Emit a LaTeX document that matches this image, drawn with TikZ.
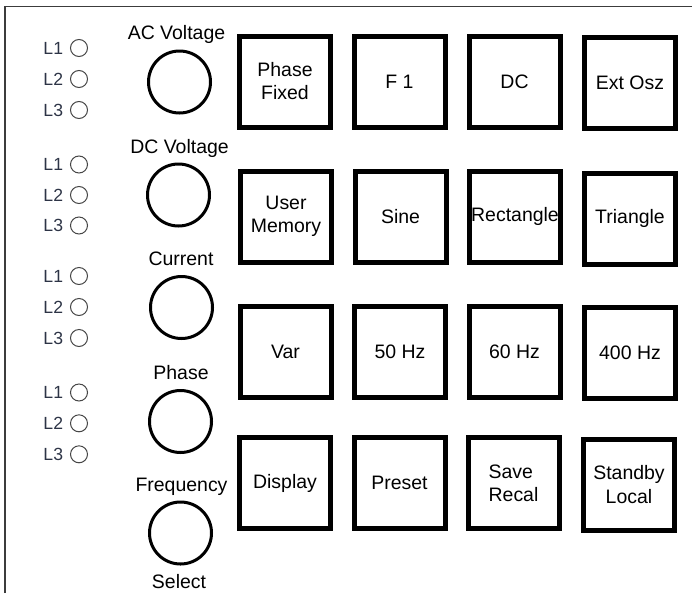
\documentclass[tikz,border=0pt]{standalone}
\usepackage{fontspec}
\setmainfont{Liberation Sans}
\usepackage{tikz}
\usetikzlibrary{positioning}
\definecolor{framegray}{RGB}{60,60,60}
\definecolor{lampgray}{RGB}{70,70,70}
\definecolor{lamptext}{RGB}{45,52,70}

\begin{document}
\begin{tikzpicture}[x=0.75pt, y=-0.75pt,
			button/.style={rectangle, draw=black, line width=3.75pt, minimum size=68.25pt, inner sep=0pt, align=center, font=\fontsize{14.6}{17.3}\selectfont},
			knob/.style={circle, draw=black, line width=2.25pt, minimum size=46.5pt, inner sep=0pt},
			lamp/.style={circle, draw=lampgray, line width=0.75pt, minimum size=12.75pt, inner sep=0pt},
			lamplabel/.style={inner sep=0pt, text=lamptext, font=\fontsize{13.2}{15}\selectfont},
			knoblabel/.style={anchor=base, inner sep=0pt, font=\fontsize{14.6}{17.3}\selectfont},
			]
			\useasboundingbox (0,0) rectangle (692,593);
			%Frame
				\draw[framegray, line width=1.1pt] (5,593) |- (692,6.5);

			%Lamps
				\node[lamp]		(lamp1-1)		at (79,48)		{};
				\node[lamp]		(lamp1-2)		at (79,79)		{};
				\node[lamp]		(lamp1-3)		at (79,110)		{};
				\node[lamp]		(lamp2-1)		at (79,164.5)	{};
				\node[lamp]		(lamp2-2)		at (79,195)		{};
				\node[lamp]		(lamp2-3)		at (79,225.5)	{};
				\node[lamp]		(lamp3-1)		at (79,276)		{};
				\node[lamp]		(lamp3-2)		at (79,307)		{};
				\node[lamp]		(lamp3-3)		at (79,338)		{};
				\node[lamp]		(lamp4-1)		at (79,392.5)	{};
				\node[lamp]		(lamp4-2)		at (79,423.3)	{};
				\node[lamp]		(lamp4-3)		at (79,454.3)	{};

				\node[lamplabel, left=5pt of lamp1-1]	(label1-1)	{L1};
				\node[lamplabel, left=5pt of lamp1-2]	(label1-2)	{L2};
				\node[lamplabel, left=5pt of lamp1-3]	(label1-3)	{L3};
				\node[lamplabel, left=5pt of lamp2-1]	(label2-1)	{L1};
				\node[lamplabel, left=5pt of lamp2-2]	(label2-2)	{L2};
				\node[lamplabel, left=5pt of lamp2-3]	(label2-3)	{L3};
				\node[lamplabel, left=5pt of lamp3-1]	(label3-1)	{L1};
				\node[lamplabel, left=5pt of lamp3-2]	(label3-2)	{L2};
				\node[lamplabel, left=5pt of lamp3-3]	(label3-3)	{L3};
				\node[lamplabel, left=5pt of lamp4-1]	(label4-1)	{L1};
				\node[lamplabel, left=5pt of lamp4-2]	(label4-2)	{L2};
				\node[lamplabel, left=5pt of lamp4-3]	(label4-3)	{L3};

			%Knobs
				\node[knob]		(knob-ac)		at (179.5,82)		{};
				\node[knob]		(knob-dc)		at (178.5,195)		{};
				\node[knob]		(knob-cur)		at (181.5,307.5)	{};
				\node[knob]		(knob-phase)	at (180.5,421.5)	{};
				\node[knob]		(knob-select)	at (180.5,533)		{};

				\node[knoblabel]	(text-ac)		at (176.5,39)		{AC Voltage};
				\node[knoblabel]	(text-dc)		at (179.5,153)		{DC Voltage};
				\node[knoblabel]	(text-cur)		at (181,265)		{Current};
				\node[knoblabel]	(text-phase)	at (181,379)		{Phase};
				\node[knoblabel]	(text-freq)		at (181.5,491.5)	{Frequency};
				\node[knoblabel]	(text-select)	at (179,588)		{Select};

			%Buttons
				\node[button]		(button1-1)		at (285,81.5)		{Phase\\Fixed};
				\node[button]		(button1-2)		at (399.5,81.5)		{F 1};
				\node[button]		(button1-3)		at (514.5,81.5)		{DC};
				\node[button]		(button1-4)		at (630,83)			{Ext Osz};
				\node[button]		(button2-1)		at (286,216.5)		{User\\Memory};
				\node[button]		(button2-2)		at (400.5,216.5)	{Sine};
				\node[button]		(button2-3)		at (515,216.5)		{Rectangle};
				\node[button]		(button2-4)		at (630,218.5)		{Triangle};
				\node[button]		(button3-1)		at (285.5,352)		{Var};
				\node[button]		(button3-2)		at (400,352)		{50 Hz};
				\node[button]		(button3-3)		at (514.5,352)		{60 Hz};
				\node[button]		(button3-4)		at (630,353)		{400 Hz};
				\node[button]		(button4-1)		at (285,483)		{Display};
				\node[button]		(button4-2)		at (399.5,483)		{Preset};
				\node[button, align=left]	(button4-3)	at (513.5,483)		{Save\\Recal};
				\node[button]		(button4-4)		at (629,484.5)		{Standby\\Local};
		\end{tikzpicture}
\end{document}
